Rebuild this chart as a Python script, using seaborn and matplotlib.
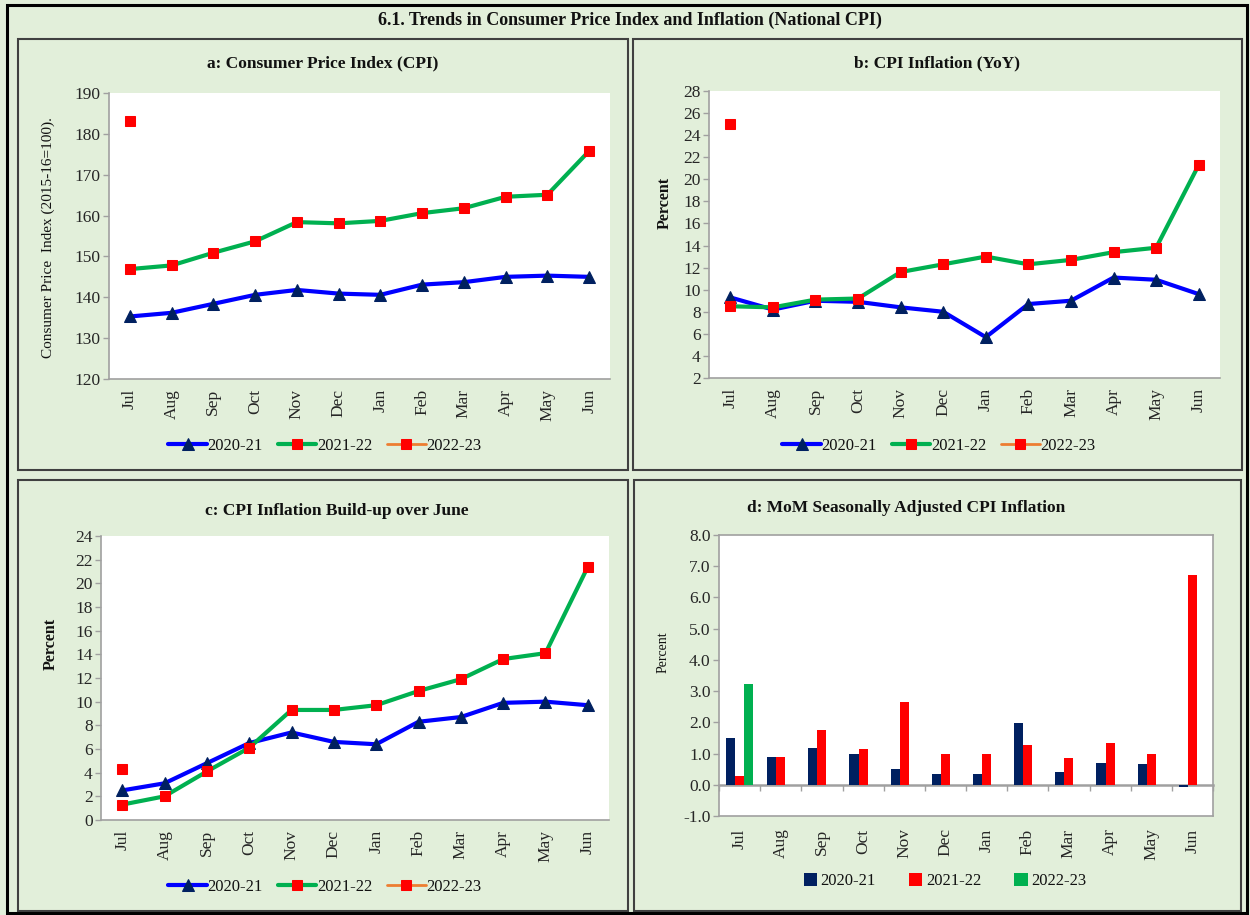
import matplotlib
matplotlib.use("Agg")
import matplotlib.pyplot as plt
from matplotlib.patches import Rectangle
import numpy as np
import pandas as pd
import seaborn as sns

months = ['Jul', 'Aug', 'Sep', 'Oct', 'Nov', 'Dec', 'Jan', 'Feb', 'Mar', 'Apr', 'May', 'Jun']
years = ['2020-21', '2021-22', '2022-23']

# a: CPI index (2015-16=100)
cpi_2021 = [135.3, 136.2, 138.4, 140.6, 141.8, 140.9, 140.6, 143.1, 143.7, 145.0, 145.3, 145.0]
cpi_2122 = [146.9, 147.8, 150.9, 153.7, 158.4, 158.1, 158.7, 160.6, 161.8, 164.6, 165.1, 175.8]
cpi_2223 = [183.2]

# b: YoY inflation
yoy_2021 = [9.3, 8.2, 9.0, 8.9, 8.4, 8.0, 5.7, 8.7, 9.0, 11.1, 10.9, 9.6]
yoy_2122 = [8.5, 8.4, 9.1, 9.2, 11.6, 12.3, 13.0, 12.3, 12.7, 13.4, 13.8, 21.3]
yoy_2223 = [25.0]

# c: build-up over June
bu_2021 = [2.5, 3.1, 4.8, 6.5, 7.4, 6.6, 6.4, 8.3, 8.7, 9.9, 10.0, 9.7]
bu_2122 = [1.3, 2.0, 4.1, 6.1, 9.3, 9.3, 9.7, 10.9, 11.9, 13.6, 14.1, 21.4]
bu_2223 = [4.3]

# d: MoM seasonally adjusted
mom_2021 = [1.51, 0.90, 1.18, 0.97, 0.52, 0.33, 0.33, 1.99, 0.41, 0.69, 0.65, -0.06]
mom_2122 = [0.29, 0.90, 1.75, 1.13, 2.65, 0.97, 0.97, 1.26, 0.85, 1.35, 0.97, 6.72]
mom_2223 = [3.22]

BG = '#E2EFDA'
GRID = '#A0A0A0'
BLUE = '#0000FF'
NAVY = '#002060'
GREEN = '#00B050'
RED = '#FF0000'
ORANGE = '#ED7D31'

sns.set_theme(style='white')
plt.rcParams['font.family'] = ['Liberation Serif', 'DejaVu Serif']
plt.rcParams['text.color'] = '#111111'

W, H = 1250, 915
fig = plt.figure(figsize=(W / 100, H / 100), dpi=100, facecolor=BG)


def px_rect(l, t, r, b):
    return [l / W, 1 - b / H, (r - l) / W, (b - t) / H]


def box(l, t, r, b, color, lw):
    fig.patches.append(Rectangle((l / W, 1 - b / H), (r - l) / W, (b - t) / H,
                                 transform=fig.transFigure, fill=False,
                                 edgecolor=color, linewidth=lw))


box(7, 5, 1247, 913, 'black', 2.2)
box(18, 39, 628, 470, '#404040', 1.5)
box(633, 39, 1242, 470, '#404040', 1.5)
box(18, 480, 628, 911, '#404040', 1.5)
box(634, 480, 1241, 911, '#404040', 1.5)

fig.text(630 / W, 1 - 20 / H, '6.1. Trends in Consumer Price Index and Inflation (National CPI)',
         ha='center', va='center', fontsize=13, fontweight='bold')


def line_panel(rect, s1, s2, s3, ylim, step, title, tpos, ylabel, ybold, ylpos, legpos):
    ax = fig.add_axes(px_rect(*rect))
    ax.set_facecolor('white')
    x = np.arange(len(months))
    sns.lineplot(x=x, y=s1, ax=ax, color=BLUE, lw=3, marker='^', ms=9,
                 markerfacecolor=NAVY, markeredgecolor=NAVY, label=years[0])
    sns.lineplot(x=x, y=s2, ax=ax, color=GREEN, lw=3, marker='s', ms=7,
                 markerfacecolor=RED, markeredgecolor=RED, label=years[1])
    sns.lineplot(x=x[:len(s3)], y=s3, ax=ax, color=ORANGE, lw=2, marker='s', ms=7,
                 markerfacecolor=RED, markeredgecolor=RED, label=years[2])
    ax.set_xlim(-0.5, 11.5)
    ax.set_ylim(*ylim)
    ax.set_yticks(np.arange(ylim[0], ylim[1] + step / 2, step))
    ax.set_xticks(x)
    ax.set_xticklabels(months, rotation=90)
    ax.set_xticks(np.arange(-0.5, 12, 1), minor=True)
    ax.tick_params(axis='x', which='major', length=0, pad=7, labelsize=12.5)
    ax.tick_params(axis='x', which='minor', length=4, color=GRID, width=1, direction='out')
    ax.tick_params(axis='y', length=4, color=GRID, width=1, direction='out', labelsize=12.5, pad=2)
    ax.tick_params(bottom=True, left=True)
    for s in ['top', 'right']:
        ax.spines[s].set_visible(False)
    for s in ['left', 'bottom']:
        ax.spines[s].set_color(GRID)
        ax.spines[s].set_linewidth(1.2)
    ax.set_xlabel('')
    ax.set_ylabel('')
    fig.text(tpos[0] / W, 1 - tpos[1] / H, title, ha='center', va='center',
             fontsize=12.5, fontweight='bold')
    fig.text(ylpos[0] / W, 1 - ylpos[1] / H, ylabel, ha='center', va='center', rotation=90,
             fontsize=11.5 if ybold else 11, fontweight='bold' if ybold else 'normal')
    ax.legend(loc='center', bbox_to_anchor=(legpos[0] / W, 1 - legpos[1] / H),
              bbox_transform=fig.transFigure, ncol=3, frameon=False, fontsize=12,
              handlelength=2.3, handletextpad=0.05, columnspacing=0.9)
    return ax


line_panel((109, 93, 610, 379), cpi_2021, cpi_2122, cpi_2223, (120, 190), 10,
           'a: Consumer Price Index (CPI)', (323, 63),
           'Consumer Price  Index (2015-16=100).', False, (48, 238), (325, 446))
line_panel((709, 91, 1220, 378), yoy_2021, yoy_2122, yoy_2223, (2, 28), 2,
           'b: CPI Inflation (YoY)', (937, 63), 'Percent', True, (665, 203), (939, 446))
line_panel((101, 536, 609, 820), bu_2021, bu_2122, bu_2223, (0, 24), 2,
           'c: CPI Inflation Build-up over June', (337, 511), 'Percent', True, (51, 644), (325, 887))

# d: grouped bars
mom = pd.DataFrame({
    'month': months * 2 + months[:len(mom_2223)],
    'year': [years[0]] * 12 + [years[1]] * 12 + [years[2]] * len(mom_2223),
    'value': mom_2021 + mom_2122 + mom_2223,
})
axd = fig.add_axes(px_rect(719, 535, 1213, 816))
axd.set_facecolor('white')
sns.barplot(data=mom, x='month', y='value', hue='year', order=months, hue_order=years,
            palette=[NAVY, RED, GREEN], width=0.66, errorbar=None, saturation=1,
            ax=axd, edgecolor='none')
axd.set_xlim(-0.5, 11.5)
axd.set_ylim(-1, 8)
axd.set_yticks(np.arange(-1, 8.5, 1))
axd.set_yticklabels([f'{v:.1f}' for v in np.arange(-1, 8.5, 1)])
axd.set_xticks(np.arange(12))
axd.set_xticklabels(months, rotation=90)
axd.tick_params(axis='x', length=0, pad=9, labelsize=12.5)
axd.tick_params(axis='y', length=4, color=GRID, width=1, direction='out', labelsize=12.5, pad=2, left=True)
for s in axd.spines.values():
    s.set_color(GRID)
    s.set_linewidth(1.2)
axd.set_xlabel('')
axd.set_ylabel('')
zero = axd.secondary_xaxis(0, transform=axd.transData)
zero.set_xticks(np.arange(-0.5, 12, 1))
zero.set_xticklabels([])
zero.tick_params(length=4, color=GRID, width=1, direction='out')
zero.spines['bottom'].set_color(GRID)
zero.spines['bottom'].set_linewidth(1.8)
fig.text(906 / W, 1 - 508 / H, 'd: MoM Seasonally Adjusted CPI Inflation', ha='center', va='center',
         fontsize=12.5, fontweight='bold')
fig.text(663 / W, 1 - 652 / H, 'Percent', ha='center', va='center', rotation=90, fontsize=10)
sns.move_legend(axd, 'center', bbox_to_anchor=(945 / W, 1 - 881 / H), bbox_transform=fig.transFigure,
                ncol=3, frameon=False, title=None, fontsize=12, handlelength=0.8, handleheight=0.8,
                handletextpad=0.2, columnspacing=2.0)

fig.savefig('out.png', dpi=100, facecolor=BG)
